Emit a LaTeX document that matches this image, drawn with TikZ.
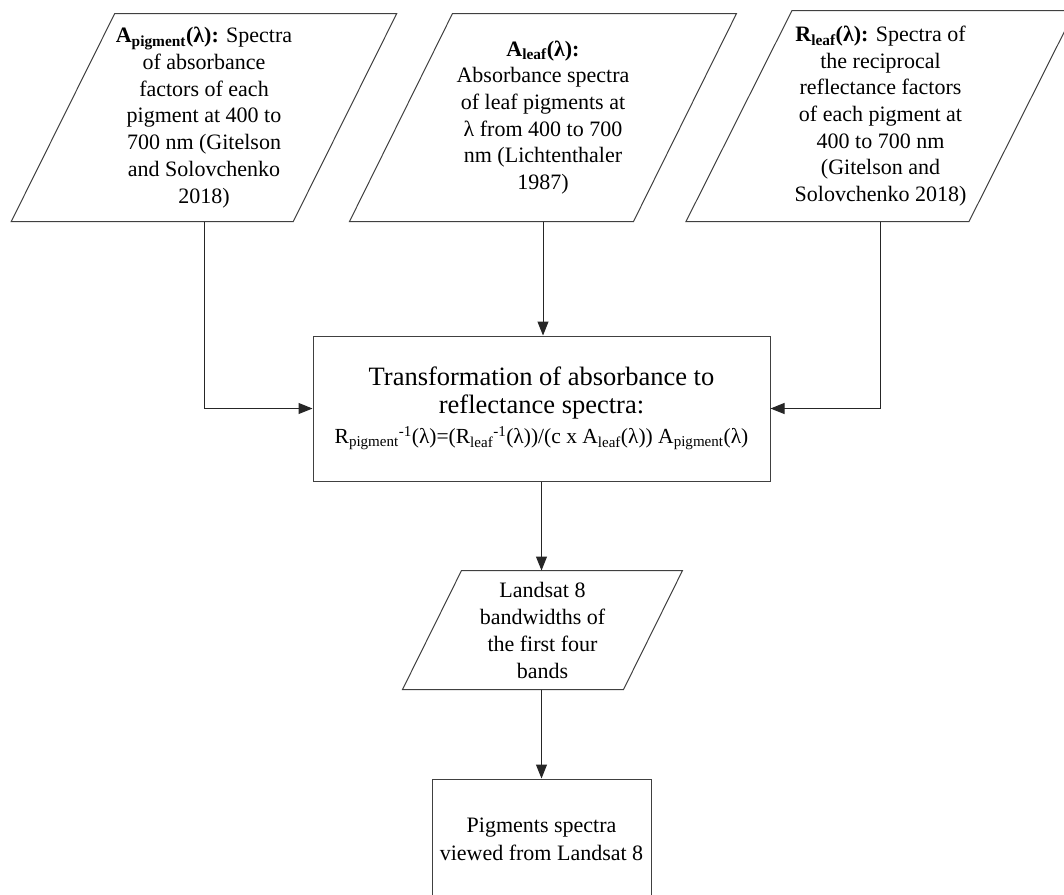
\documentclass[tikz,border=0pt]{standalone}
\usepackage{fontspec}
\setmainfont{Liberation Serif}
\usepackage{tikz}
\usetikzlibrary{arrows.meta}

\begin{document}
\begin{tikzpicture}[x=1pt,y=-1pt,line width=1pt,
  data/.style={rectangle, align=center, inner sep=0pt,
    font=\fontsize{22}{26.7}\selectfont},
  process/.style={rectangle, draw=black!75, align=center, inner sep=0pt},
  flow/.style={-{Triangle[length=14pt,width=11pt]}, black!85}]
\useasboundingbox (0,0) rectangle (1064,894);
\node[data, minimum width=281pt, minimum height=207pt] (apig) at (204,117.5)
  {\textbf{A\textsubscript{pigment}(λ):} Spectra\\ of absorbance\\ factors of each\\
   pigment at 400 to\\ 700 nm (Gitelson\\ and Solovchenko\\ 2018)};
\node[data, minimum width=283pt, minimum height=207pt] (aleaf) at (543,117.5)
  {\textbf{A\textsubscript{leaf}(λ):}\\ Absorbance spectra\\ of leaf pigments at\\
   λ from 400 to 700\\ nm (Lichtenthaler\\ 1987)};
\node[data, minimum width=282pt, minimum height=210pt] (rleaf) at (880.5,116)
  {\textbf{R\textsubscript{leaf}(λ):} Spectra of\\ the reciprocal\\ reflectance factors\\
   of each pigment at\\ 400 to 700 nm\\ (Gitelson and\\ Solovchenko 2018)};
\node[process, minimum width=457pt, minimum height=145pt,
  font=\fontsize{26.5}{28}\selectfont] (trans) at (541.5,408.5)
  {Transformation of absorbance to\\ reflectance spectra:\\[2pt]
   {\fontsize{21.5}{24}\selectfont R\textsubscript{pigment}\textsuperscript{-1}(λ)=(R\textsubscript{leaf}\textsuperscript{-1}(λ))/(c x A\textsubscript{leaf}(λ)) A\textsubscript{pigment}(λ)}};
\node[data, minimum width=220pt, minimum height=118pt,
  font=\fontsize{22}{27}\selectfont] (landsat) at (542.5,630)
  {Landsat 8\\ bandwidths of\\ the first four\\ bands};
\node[process, minimum width=219pt, minimum height=120pt,
  font=\fontsize{22}{28}\selectfont] (viewed) at (541.5,839)
  {Pigments spectra\\ viewed from Landsat 8};

\foreach \n/\s in {apig/51.75, aleaf/51.5, rleaf/53, landsat/29.5}
  \draw[black!75] ([xshift=\s pt]\n.north west) -- ([xshift=\s pt]\n.north east)
    -- ([xshift=-\s pt]\n.south east) -- ([xshift=-\s pt]\n.south west) -- cycle;

\draw[flow] (apig.south) |- (trans.west);
\draw[flow] (aleaf.south) -- (aleaf.south |- trans.north);
\draw[flow] (rleaf.south) |- (trans.east);
\draw[flow] (trans.south) -- (trans.south |- landsat.north);
\draw[flow] (trans.south |- landsat.south) -- (viewed.north);
\end{tikzpicture}
\end{document}
